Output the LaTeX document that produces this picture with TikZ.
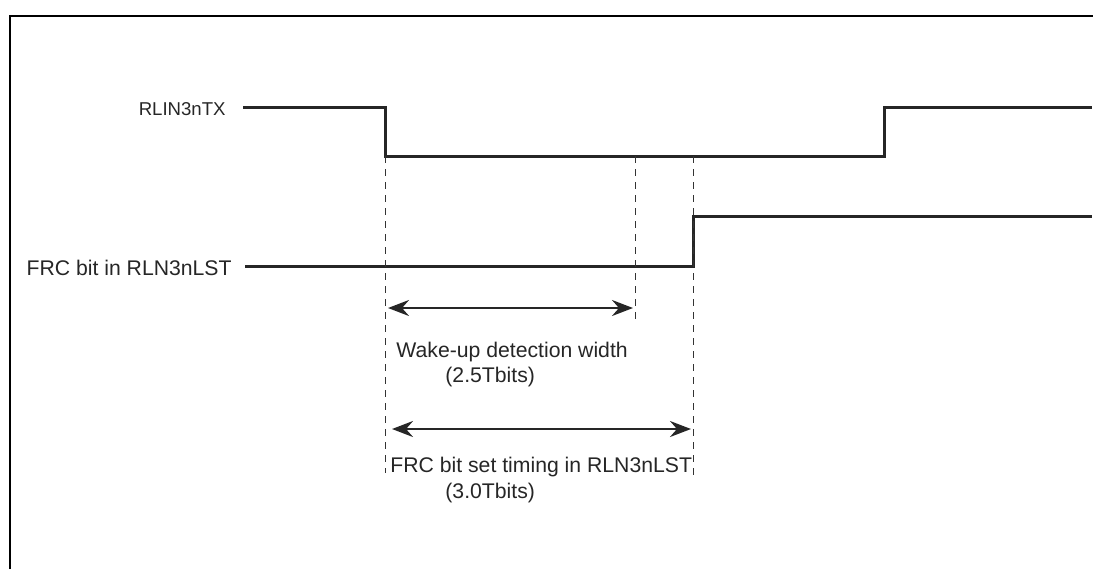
\documentclass[tikz,border=0pt]{standalone}
\usepackage{fontspec}
\setmainfont{Liberation Sans}
\usetikzlibrary{arrows.meta}

\begin{document}
\begin{tikzpicture}[x=0.5pt, y=-0.5pt, >={Stealth[length=10.5pt, width=8pt, inset=3.5pt]}]

    \useasboundingbox (0, 0) rectangle (1093, 569);

    \tikzset{
        signal/.style={line width=1.5pt, black!85},
        guide/.style={line width=0.5pt, black!80, dash pattern=on 3.5pt off 3pt},
        span/.style={line width=1.3pt, black!85, <->},
        lbl/.style={inner sep=0pt, font=\fontsize{10.6}{12}\selectfont, black!85}
    }

    \coordinate (TA)  at (385, 156);  % TX falling edge
    \coordinate (TB)  at (635, 156);  % 2.5 Tbits
    \coordinate (TC)  at (693, 156);  % 3.0 Tbits
    \coordinate (TD)  at (884, 156);  % TX rising edge

    % 1. Frame (top and left side only)
    \draw[line width=1.1pt] (10, 569) -- (10, 16) -- (1093, 16);

    % 2. RLIN3nTX
    \node[lbl, anchor=base east, font=\fontsize{9.3}{11}\selectfont] (tx) at (226, 115) {RLIN3nTX};
    \draw[signal] (243, 107) -| (TA) -- (TD) |- (1092, 107);

    % 3. FRC bit in RLN3nLST
    \node[lbl, anchor=base east] (frc) at (232, 275) {FRC bit in RLN3nLST};
    \draw[signal] (245, 266) -| (693, 216) -- (1092, 216);

    % 4. Dashed guide lines
    \draw[guide] (TA) -- (385, 473);
    \draw[guide] (TB) -- (635, 323);
    \draw[guide] (TC) -- (693, 480);

    % 5. Widths
    \draw[span] (388, 308) -- (633, 308);
    \node[lbl, anchor=base west] (wake) at (396, 357) {Wake-up detection width};
    \node[lbl, anchor=base west] (wake1) at (445, 382) {(2.5Tbits)};

    \draw[span] (392, 429) -- (691, 429);
    \node[lbl, anchor=base west] (set) at (390, 472) {FRC bit set timing in RLN3nLST};
    \node[lbl, anchor=base west] (set1) at (445, 498) {(3.0Tbits)};

\end{tikzpicture}
\end{document}
